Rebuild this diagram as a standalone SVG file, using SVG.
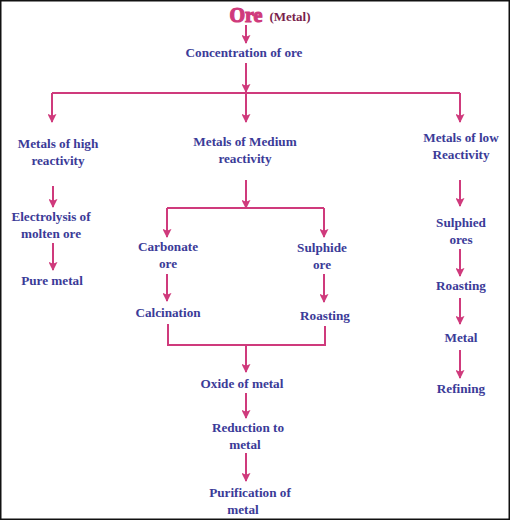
<svg xmlns="http://www.w3.org/2000/svg" width="510" height="520" viewBox="0 0 510 520">
<defs>
<style>
.t{font-family:"Liberation Serif","DejaVu Serif",serif;font-weight:bold;font-size:13.2px;fill:#3b3b98;text-anchor:middle}
.c{stroke:#cf3a7c;stroke-width:2;fill:none}
</style>
<marker id="ah" viewBox="0 0 10 10" refX="9" refY="5" markerWidth="9" markerHeight="9" markerUnits="userSpaceOnUse" orient="auto">
<path d="M0,0 L10,5 L0,10 L2,5 z" fill="#cf3a7c"/>
</marker>
</defs>
<rect x="0.75" y="0.75" width="508.5" height="518.5" fill="#fff" stroke="#111" stroke-width="1.5"/>
<g id="connectors">
<path class="c" d="M246,25 V43" marker-end="url(#ah)"/>
<path class="c" d="M246,63 V93"/>
<path class="c" d="M52,93 H460"/>
<path class="c" d="M246,86 V92" marker-end="url(#ah)"/>
<path class="c" d="M52,93 V122" marker-end="url(#ah)"/>
<path class="c" d="M246,93 V122" marker-end="url(#ah)"/>
<path class="c" d="M460,93 V122" marker-end="url(#ah)"/>
<path class="c" d="M53,186 V207" marker-end="url(#ah)"/>
<path class="c" d="M53,243 V270" marker-end="url(#ah)"/>
<path class="c" d="M246,180 V208" marker-end="url(#ah)"/>
<path class="c" d="M167,208 H324"/>
<path class="c" d="M167,208 V237" marker-end="url(#ah)"/>
<path class="c" d="M324,208 V237" marker-end="url(#ah)"/>
<path class="c" d="M167,274 V301" marker-end="url(#ah)"/>
<path class="c" d="M324,274 V302" marker-end="url(#ah)"/>
<path class="c" d="M168,324 V345 H325 V326"/>
<path class="c" d="M246,345 V372" marker-end="url(#ah)"/>
<path class="c" d="M246,393 V418" marker-end="url(#ah)"/>
<path class="c" d="M246,453 V481" marker-end="url(#ah)"/>
<path class="c" d="M460,180 V206" marker-end="url(#ah)"/>
<path class="c" d="M460,249 V276" marker-end="url(#ah)"/>
<path class="c" d="M460,298 V324" marker-end="url(#ah)"/>
<path class="c" d="M460,350 V378" marker-end="url(#ah)"/>
</g>
<g id="ore"><text x="246" y="22" font-family="'Liberation Serif',serif" font-weight="900" font-size="20" fill="#cf3a7c" text-anchor="middle" stroke="#cf3a7c" stroke-width="1.2">Ore</text><text x="290" y="21" font-family="'Liberation Serif',serif" font-weight="bold" font-size="13" fill="#7a1f4d" text-anchor="middle">(Metal)</text></g>
<g id="concentration"><text class="t" x="244" y="57">Concentration of ore</text></g>
<g id="high"><text class="t" x="58" y="148">Metals of high</text><text class="t" x="58" y="165">reactivity</text></g>
<g id="medium"><text class="t" x="245" y="146">Metals of Medium</text><text class="t" x="245" y="163">reactivity</text></g>
<g id="low"><text class="t" x="461" y="142">Metals of low</text><text class="t" x="461" y="159">Reactivity</text></g>
<g id="electrolysis"><text class="t" x="51" y="221">Electrolysis of</text><text class="t" x="51" y="238">molten ore</text></g>
<g id="puremetal"><text class="t" x="52" y="285">Pure metal</text></g>
<g id="carbonate"><text class="t" x="168" y="251">Carbonate</text><text class="t" x="168" y="268">ore</text></g>
<g id="sulphide"><text class="t" x="322" y="252">Sulphide</text><text class="t" x="322" y="269">ore</text></g>
<g id="calcination"><text class="t" x="168" y="317">Calcination</text></g>
<g id="roasting1"><text class="t" x="325" y="320">Roasting</text></g>
<g id="oxide"><text class="t" x="242" y="388">Oxide of metal</text></g>
<g id="reduction"><text class="t" x="248" y="432">Reduction to</text><text class="t" x="245" y="449">metal</text></g>
<g id="purification"><text class="t" x="250" y="497">Purification of</text><text class="t" x="243" y="514">metal</text></g>
<g id="sulphied"><text class="t" x="461" y="227">Sulphied</text><text class="t" x="461" y="244">ores</text></g>
<g id="roasting2"><text class="t" x="461" y="290">Roasting</text></g>
<g id="metal"><text class="t" x="461" y="342">Metal</text></g>
<g id="refining"><text class="t" x="461" y="393">Refining</text></g>
</svg>
